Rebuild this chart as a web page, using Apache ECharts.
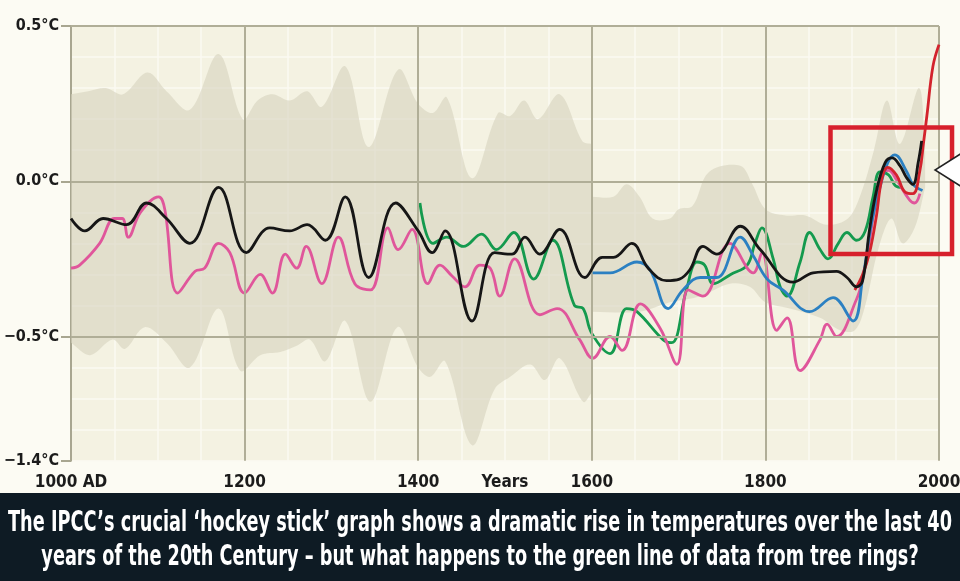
<!DOCTYPE html>
<html><head><meta charset="utf-8">
<script src="https://cdn.jsdelivr.net/npm/echarts@6/dist/echarts.min.js"></script>
<style>html,body{margin:0;padding:0;background:#fcfbf3;}#c{width:960px;height:581px;}</style>
</head><body><div id="c"></div>
<script>
// ---- axis ticks / labels ----
const xLabelValues = [1000, 1200, 1400, 1500, 1600, 1800, 2000];
const xLabelTexts  = ['1000 AD', '1200', '1400', 'Years', '1600', '1800', '2000'];
const xTickMarks   = [1000, 1200, 1400, 1600, 1800, 2000];
const xMajorLines  = [1200, 1400, 1600, 1800, 2000];
const yLabelValues = [0.5, 0, -0.5, -0.9];
const yLabelTexts  = ['0.5°C', '0.0°C', '−0.5°C', '−1.4°C'];
const yMajorLines  = [0.5, 0, -0.5];

// ---- uncertainty band (two segments) ----
const bandAUpperYears = [1000,1020,1040,1060,1088,1110,1137,1170,1198,1215,1232,1252,1272,1289,1316,1343,1377,1400,1417,1433,1462,1492,1506,1522,1538,1563,1589,1600];
const bandAUpper      = [0.28,0.29,0.30,0.28,0.35,0.29,0.23,0.41,0.20,0.26,0.28,0.26,0.29,0.24,0.37,0.11,0.36,0.25,0.22,0.27,0.01,0.22,0.21,0.26,0.20,0.28,0.13,0.12];
const bandALowerYears = [1000,1022,1048,1062,1085,1110,1137,1170,1195,1218,1241,1260,1275,1293,1316,1345,1376,1400,1414,1431,1462,1488,1506,1529,1546,1563,1590,1600];
const bandALower      = [-0.52,-0.56,-0.51,-0.54,-0.47,-0.52,-0.60,-0.41,-0.61,-0.56,-0.55,-0.53,-0.51,-0.58,-0.45,-0.71,-0.47,-0.60,-0.63,-0.58,-0.85,-0.67,-0.63,-0.59,-0.64,-0.57,-0.71,-0.68];
const bandBUpperYears = [1600,1625,1640,1655,1670,1690,1700,1716,1735,1771,1785,1800,1823,1846,1870,1895,1910,1925,1940,1955,1977,1984];
const bandBUpper      = [-0.05,-0.05,-0.01,-0.05,-0.12,-0.12,-0.09,-0.08,0.03,0.05,-0.01,-0.09,-0.11,-0.11,-0.14,-0.12,-0.04,0.10,0.26,0.12,0.30,0.10];
const bandBLowerYears = [1600,1655,1690,1725,1759,1782,1800,1828,1863,1886,1903,1915,1930,1945,1958,1972,1984];
const bandBLower      = [-0.42,-0.42,-0.39,-0.37,-0.33,-0.34,-0.39,-0.41,-0.44,-0.48,-0.48,-0.40,-0.22,-0.12,-0.20,-0.15,-0.02];

// ---- reconstructions ----
const blackYears = [1000,1016,1037,1064,1087,1110,1137,1170,1202,1229,1252,1272,1293,1316,1343,1374,1400,1416,1431,1462,1488,1508,1523,1540,1563,1592,1612,1625,1646,1665,1686,1701,1713,1728,1744,1771,1794,1832,1855,1882,1894,1905,1912,1920,1928,1938,1946,1955,1963,1970,1976,1980];
const blackVals  = [-0.12,-0.16,-0.12,-0.14,-0.07,-0.12,-0.20,-0.02,-0.23,-0.15,-0.16,-0.14,-0.19,-0.05,-0.31,-0.07,-0.16,-0.23,-0.16,-0.45,-0.23,-0.235,-0.18,-0.235,-0.155,-0.31,-0.245,-0.245,-0.20,-0.28,-0.32,-0.315,-0.285,-0.21,-0.235,-0.145,-0.22,-0.325,-0.295,-0.29,-0.31,-0.34,-0.32,-0.155,-0.03,0.06,0.075,0.05,0.01,-0.01,0.06,0.13];

const pinkYears = [1000,1010,1033,1050,1059,1066,1080,1101,1108,1123,1143,1154,1170,1183,1200,1218,1232,1247,1260,1271,1289,1308,1327,1345,1365,1377,1393,1411,1425,1439,1454,1471,1483,1494,1511,1540,1560,1586,1601,1621,1635,1656,1679,1698,1711,1728,1759,1786,1796,1813,1825,1840,1863,1871,1882,1905,1912,1920,1928,1936,1942,1951,1966,1972,1978];
const pinkVals  = [-0.28,-0.27,-0.20,-0.12,-0.12,-0.18,-0.10,-0.05,-0.09,-0.36,-0.29,-0.28,-0.20,-0.23,-0.36,-0.30,-0.36,-0.235,-0.28,-0.21,-0.33,-0.18,-0.33,-0.35,-0.15,-0.22,-0.155,-0.33,-0.27,-0.305,-0.34,-0.27,-0.28,-0.37,-0.25,-0.43,-0.41,-0.51,-0.57,-0.50,-0.545,-0.395,-0.475,-0.59,-0.35,-0.37,-0.20,-0.295,-0.23,-0.48,-0.44,-0.61,-0.51,-0.46,-0.50,-0.38,-0.315,-0.19,-0.05,0.03,0.035,0.005,-0.06,-0.07,-0.04];

const greenYears = [1402,1417,1433,1452,1473,1490,1510,1533,1555,1580,1590,1600,1621,1640,1652,1682,1692,1709,1721,1730,1740,1760,1779,1788,1796,1809,1817,1825,1840,1851,1863,1872,1884,1894,1905,1915,1924,1932,1942,1950,1958];
const greenVals  = [-0.07,-0.20,-0.18,-0.21,-0.17,-0.22,-0.165,-0.315,-0.19,-0.40,-0.41,-0.49,-0.555,-0.41,-0.42,-0.51,-0.52,-0.35,-0.26,-0.27,-0.33,-0.30,-0.27,-0.20,-0.15,-0.25,-0.34,-0.37,-0.26,-0.165,-0.22,-0.25,-0.20,-0.165,-0.19,-0.16,-0.05,0.03,0.02,-0.015,-0.02];

const blueYears = [1601,1621,1652,1667,1688,1705,1725,1744,1771,1786,1802,1820,1851,1878,1901,1912,1922,1932,1941,1949,1963,1970,1981];
const blueVals  = [-0.295,-0.295,-0.26,-0.285,-0.41,-0.35,-0.31,-0.31,-0.18,-0.24,-0.315,-0.35,-0.42,-0.375,-0.45,-0.315,-0.14,-0.02,0.06,0.085,0.03,-0.01,-0.03];

const redYears = [1903,1912,1920,1928,1934,1941,1951,1961,1970,1978,1982,1986,1993,2000];
const redVals  = [-0.35,-0.30,-0.23,-0.11,0.005,0.045,0.02,-0.035,-0.04,0.035,0.12,0.21,0.37,0.44];

// annotation box in data units [year, value]
const boxCorners = [[1875, 0.173], [2015, -0.234]];

const captionLines = [
  'The IPCC’s crucial ‘hockey stick’ graph shows a dramatic rise in temperatures over the last 40',
  'years of the 20th Century – but what happens to the green line of data from tree rings?'
];

const FONT = '"DejaVu Sans Condensed","Liberation Sans Narrow","Roboto","DejaVu Sans",sans-serif';
const pairs = (xs, ys) => xs.map((x, i) => [x, ys[i]]);
const near = (a, b) => Math.abs(a - b) < 1e-6;

const chart = echarts.init(document.getElementById('c'), null, {renderer: 'canvas'});

function lineSeries(name, xs, ys, color, z) {
  return {
    name, type: 'line', data: pairs(xs, ys), smooth: 0.4, showSymbol: false, z,
    lineStyle: {color, width: 2.8}, silent: true
  };
}

function bandPolygon(api, uy, uv, ly, lv) {
  const pts = [];
  for (let i = 0; i < uy.length; i++) {
    const p = api.coord([uy[i], uv[i]]);
    pts.push(p);
    if (i === 0 || i === uy.length - 1) pts.push(p.slice());
  }
  for (let i = ly.length - 1; i >= 0; i--) {
    const p = api.coord([ly[i], lv[i]]);
    pts.push(p);
    if (i === 0 || i === ly.length - 1) pts.push(p.slice());
  }
  return {type: 'polygon', shape: {points: pts, smooth: 0.35}, style: {fill: 'rgba(214,212,190,0.62)'}};
}

const option = {
  animation: false,
  backgroundColor: '#fcfbf3',
  grid: {left: 71, right: 21, top: 26, bottom: 120.3, show: true, backgroundColor: '#f4f2e2', borderWidth: 0,
         containLabel: false, outerBoundsMode: 'none'},
  xAxis: [
    {
      type: 'value', min: 1000, max: 2000, interval: 100,
      axisLine: {show: true, lineStyle: {color: '#a8a690', width: 2}},
      axisTick: {show: true, customValues: xTickMarks, length: 6, lineStyle: {color: '#a8a690', width: 2}},
      axisLabel: {
        margin: 13, color: '#1b1b1b', fontFamily: FONT, fontWeight: 'bold', fontSize: 17,
        formatter: v => { const i = xLabelValues.findIndex(t => near(t, v)); return i < 0 ? '' : xLabelTexts[i]; }
      },
      splitLine: {show: false}
    },
    {
      type: 'value', min: 1000, max: 2000, interval: 50, position: 'bottom',
      axisLine: {show: false}, axisTick: {show: false}, axisLabel: {show: false},
      splitLine: {show: true, lineStyle: {color: '#fbfaf2', width: 1.5}}
    }
  ],
  yAxis: [
    {
      type: 'value', min: -0.9, max: 0.5, interval: 0.1,
      axisLine: {show: true, lineStyle: {color: '#a8a690', width: 2}},
      axisTick: {show: true, customValues: yLabelValues, length: 10, lineStyle: {color: '#a8a690', width: 2}},
      axisLabel: {
        margin: 12, color: '#1b1b1b', fontFamily: FONT, fontWeight: 'bold', fontSize: 16,
        formatter: v => { const i = yLabelValues.findIndex(t => near(t, v)); return i < 0 ? '' : yLabelTexts[i]; }
      },
      splitLine: {show: false}
    },
    {
      type: 'value', min: -0.9, max: 0.5, interval: 0.1, position: 'left',
      axisLine: {show: false}, axisTick: {show: false}, axisLabel: {show: false},
      splitLine: {show: true, lineStyle: {color: '#fbfaf2', width: 1.5}}
    }
  ],
  series: [
    {
      type: 'custom', z: 1, silent: true, data: [[1500, 0]],
      renderItem: (params, api) => ({
        type: 'group',
        children: [
          bandPolygon(api, bandAUpperYears, bandAUpper, bandALowerYears, bandALower),
          bandPolygon(api, bandBUpperYears, bandBUpper, bandBLowerYears, bandBLower)
        ]
      })
    },
    {
      type: 'line', data: [], z: 2, silent: true,
      markLine: {
        silent: true, symbol: 'none', animation: false, label: {show: false},
        lineStyle: {color: '#b0ae97', width: 2, type: 'solid'},
        data: xMajorLines.map(v => ({xAxis: v})).concat(yMajorLines.map(v => ({yAxis: v})))
      }
    },
    lineSeries('Tree rings', greenYears, greenVals, '#149a4e', 3),
    lineSeries('Pink', pinkYears, pinkVals, '#e0569b', 4),
    lineSeries('Blue', blueYears, blueVals, '#2b80c2', 5),
    lineSeries('Instrumental', redYears, redVals, '#d3232d', 6),
    lineSeries('Black', blackYears, blackVals, '#161616', 7)
  ]
};
chart.setOption(option);

// annotations and caption
const p0 = chart.convertToPixel({gridIndex: 0}, boxCorners[0]);
const p1 = chart.convertToPixel({gridIndex: 0}, boxCorners[1]);
const capFont = 'bold 28px ' + FONT;
const ctx = document.createElement('canvas').getContext('2d');
ctx.font = capFont;
const sx = 944 / ctx.measureText(captionLines[0]).width;

chart.setOption({
  graphic: [
    {type: 'rect', silent: true, z: 100,
     shape: {x: p0[0], y: p0[1], width: p1[0] - p0[0], height: p1[1] - p0[1]},
     style: {fill: null, stroke: '#d7202c', lineWidth: 4.5}},
    {type: 'polygon', silent: true, z: 100,
     shape: {points: [[962, 153], [935, 170], [962, 187]]},
     style: {fill: '#ffffff', stroke: '#222222', lineWidth: 1.5}},
    {type: 'rect', silent: true, z: 100, left: 0, top: 493,
     shape: {width: 960, height: 88}, style: {fill: '#0e1b24'}},
    {type: 'text', silent: true, z: 101, x: 480, y: 524, scaleX: sx,
     style: {text: captionLines[0], font: capFont, fill: '#ffffff', align: 'center', verticalAlign: 'middle'}},
    {type: 'text', silent: true, z: 101, x: 480, y: 558, scaleX: sx,
     style: {text: captionLines[1], font: capFont, fill: '#ffffff', align: 'center', verticalAlign: 'middle'}}
  ]
});
</script>
</body></html>
